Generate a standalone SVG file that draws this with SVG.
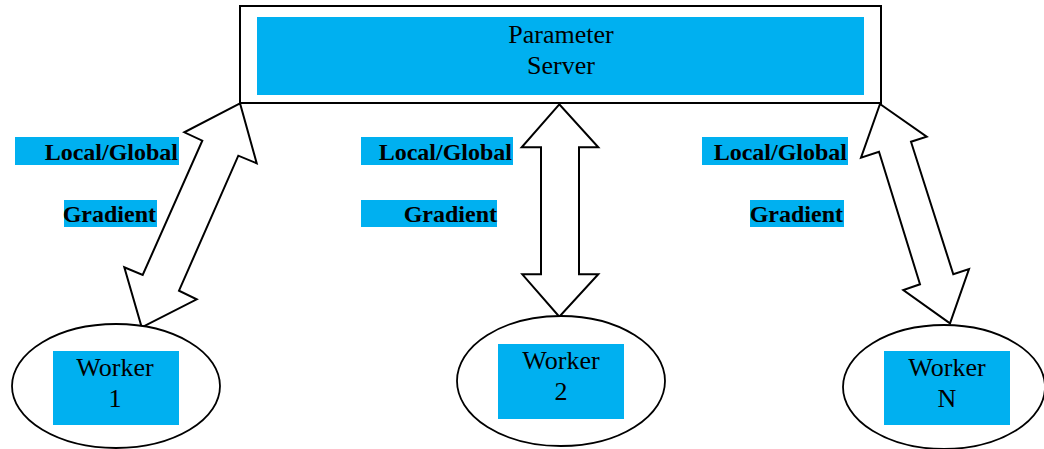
<svg xmlns="http://www.w3.org/2000/svg" width="1044" height="449" viewBox="0 0 1044 449">
<style>
.fill{fill:#00B0F0}
.outline{fill:none;stroke:#000;stroke-width:2}
.ell{fill:#fff;stroke:#000;stroke-width:1.8}
.arrow{fill:#fff;stroke:#000;stroke-width:2;stroke-linejoin:miter}
.t{font-family:"Liberation Serif","Times New Roman",serif;font-size:26px;fill:#000;text-anchor:middle}
.b{font-family:"Liberation Serif","Times New Roman",serif;font-size:24px;font-weight:bold;fill:#000;text-anchor:end}
</style>
<rect width="1044" height="449" fill="#fff"/>
<g id="server">
<rect class="outline" x="240" y="6" width="641" height="97"/>
<rect class="fill" x="257" y="17" width="607" height="78"/>
<text class="t" x="561" y="42.5">Parameter</text>
<text class="t" x="561" y="73.5">Server</text>
</g>
<g id="connectors">
<polygon class="arrow" points="240,103.3 184.3,132.3 202.3,140.7 142.7,275 124.3,267.3 141.7,327.3 196.7,299.3 179,290.7 238.3,155.7 256.7,163.3"/>
<polygon class="arrow" points="559.3,104.3 521.7,147.3 541,147.3 541,274.3 522.3,274.3 559.3,316.7 598.3,274.3 579,274.3 579,147.3 598.3,147.3"/>
<polygon class="arrow" points="880,104 926.7,136.7 911,141.7 953.3,274.3 969,269 950,323.3 903.3,290 920,284.3 879,151.7 861,157.7"/>
</g>
<g id="label-left">
<rect class="fill" x="15" y="137" width="164" height="28"/>
<text class="b" x="178" y="160">Local/Global</text>
<rect class="fill" x="64" y="200" width="93" height="27"/>
<text class="b" x="156" y="222">Gradient</text>
</g>
<g id="label-mid">
<rect class="fill" x="361" y="137" width="152" height="28"/>
<text class="b" x="512" y="160">Local/Global</text>
<rect class="fill" x="361" y="200" width="136" height="27"/>
<text class="b" x="497" y="222">Gradient</text>
</g>
<g id="label-right">
<rect class="fill" x="702" y="137" width="146" height="28"/>
<text class="b" x="847" y="160">Local/Global</text>
<rect class="fill" x="750" y="200" width="94" height="27"/>
<text class="b" x="843" y="222">Gradient</text>
</g>
<g id="worker1">
<ellipse class="ell" cx="116" cy="386" rx="104" ry="62"/>
<rect class="fill" x="53" y="351" width="126" height="74"/>
<text class="t" x="115" y="376">Worker</text>
<text class="t" x="115" y="407">1</text>
</g>
<g id="worker2">
<ellipse class="ell" cx="561" cy="381" rx="104" ry="65"/>
<rect class="fill" x="498" y="344" width="126" height="75"/>
<text class="t" x="561" y="369">Worker</text>
<text class="t" x="561" y="400">2</text>
</g>
<g id="workerN">
<ellipse class="ell" cx="944" cy="387" rx="101" ry="62"/>
<rect class="fill" x="884" y="351" width="126" height="74"/>
<text class="t" x="947" y="376">Worker</text>
<text class="t" x="947" y="407">N</text>
</g>
</svg>
